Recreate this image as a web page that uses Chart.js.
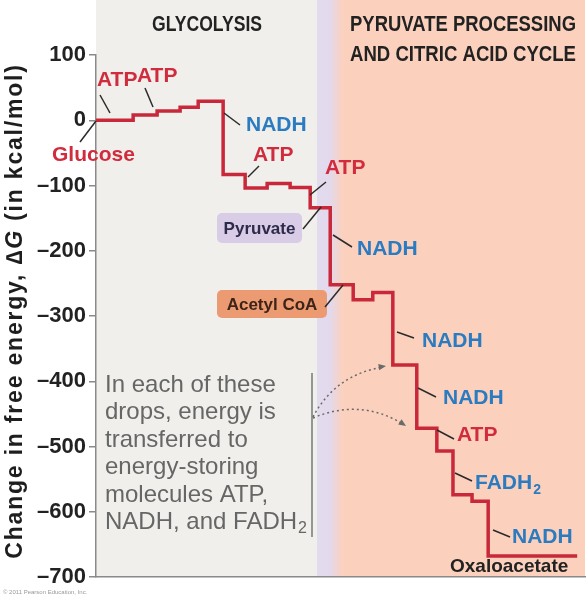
<!DOCTYPE html>
<html>
<head>
<meta charset="utf-8">
<script src="https://cdn.jsdelivr.net/npm/chart.js@4.4.1/dist/chart.umd.min.js"></script>
<style>
  body { margin: 0; background: #fff; }
  canvas { display: block; }
</style>
</head>
<body>
<canvas id="chartEnergia" width="587" height="600"></canvas>
<script>
// Reaction progress (arbitrary units 0-100) where each level starts
const STEP_X = [0, 7.6, 12.5, 17.2, 20.9, 26.0, 30.5, 35.0, 39.7, 43.8, 47.9, 52.6, 56.6, 60.7, 65.6, 69.7, 73.0, 76.9, 80.2, 98.4];
// Free energy of each level, kcal/mol
const STEP_DG = [0, 8, 14, 20, 29, -83, -104, -97, -103, -134, -252, -275, -264, -375, -472, -507, -574, -584, -668, -668];

const Y_TICKS = [100, 0, -100, -200, -300, -400, -500, -600, -700];

const PHASE_NAMES = [["GLYCOLYSIS"], ["PYRUVATE PROCESSING", "AND CITRIC ACID CYCLE"]];
const PHASE_LIMITS = [0, 45.2, 50.5, 100];

const RED = "#d02c3e";
const BLUE = "#2b7bc0";

// Callouts (pixel layout)
const CALLOUTS = [
  { text: "ATP", color: RED, x: 97, y: 80, line: [100, 95, 110, 113] },
  { text: "ATP", color: RED, x: 137, y: 76, line: [145, 88, 153, 107] },
  { text: "Glucose", color: RED, x: 52, y: 155, line: [80, 142, 96, 121] },
  { text: "NADH", color: BLUE, x: 246, y: 125, line: [224, 113, 240, 125] },
  { text: "ATP", color: RED, x: 253, y: 155, line: [248, 177, 259, 166] },
  { text: "ATP", color: RED, x: 325, y: 168, line: [310, 195, 326, 182] },
  { text: "NADH", color: BLUE, x: 357, y: 249, line: [333, 235, 352, 247] },
  { text: "NADH", color: BLUE, x: 422, y: 341, line: [397, 332, 414, 338] },
  { text: "NADH", color: BLUE, x: 443, y: 398, line: [418, 388, 436, 397] },
  { text: "ATP", color: RED, x: 457, y: 435, line: [437, 430, 454, 439] },
  { text: "FADH", sub: "2", color: BLUE, x: 475, y: 483, line: [455, 473, 472, 481] },
  { text: "NADH", color: BLUE, x: 512, y: 537, line: [493, 530, 510, 537] },
];

const BOXES = [
  { text: "Pyruvate", fill: "#d8cce6", color: "#2d2a4a", x: 217, y: 213, w: 85, h: 30, line: [303, 229, 321, 207] },
  { text: "Acetyl CoA", fill: "#ec9a72", color: "#3d2418", x: 217, y: 290, w: 110, h: 28, line: [325, 307, 343, 285] },
];

const NOTE_LINES = ["In each of these", "drops, energy is", "transferred to", "energy-storing", "molecules ATP,", "NADH, and FADH"];

// draws text squeezed to a given width (condensed look)
function textoAncho(ctx, text, cx, cy, width) {
  const w = ctx.measureText(text).width;
  ctx.save();
  ctx.translate(cx, cy);
  ctx.scale(width / w, 1);
  ctx.fillText(text, 0, 0);
  ctx.restore();
}

const fondoPlugin = {
  id: "fondo",
  beforeDraw(chart) {
    const { ctx, chartArea, scales } = chart;
    const x = scales.x;
    ctx.save();
    ctx.fillStyle = "#ffffff";
    ctx.fillRect(0, 0, chart.width, chart.height);

    const x0 = x.getPixelForValue(PHASE_LIMITS[0]);
    const x1 = x.getPixelForValue(PHASE_LIMITS[1]);
    const x2 = x.getPixelForValue(PHASE_LIMITS[2]);
    const x3 = x.getPixelForValue(PHASE_LIMITS[3]);
    const bottom = chartArea.bottom;

    ctx.fillStyle = "#f0efec";
    ctx.fillRect(x0, 0, x1 - x0, bottom);

    const grad = ctx.createLinearGradient(x1, 0, x2, 0);
    grad.addColorStop(0, "#e2dbee");
    grad.addColorStop(0.5, "#e3d9ec");
    grad.addColorStop(1, "#fbd0bd");
    ctx.fillStyle = grad;
    ctx.fillRect(x1, 0, x2 - x1, bottom);

    ctx.fillStyle = "#fbd0bd";
    ctx.fillRect(x2, 0, x3 - x2, bottom);

    // phase headers
    ctx.fillStyle = "#222";
    ctx.font = 'bold 22px "Liberation Sans", sans-serif';
    ctx.textAlign = "center";
    ctx.textBaseline = "middle";
    textoAncho(ctx, PHASE_NAMES[0][0], 207, 25, 110);
    textoAncho(ctx, PHASE_NAMES[1][0], 463, 25, 226);
    textoAncho(ctx, PHASE_NAMES[1][1], 463, 55, 226);
    ctx.restore();
  },
};

function leader(ctx, l) {
  ctx.beginPath();
  ctx.moveTo(l[0], l[1]);
  ctx.lineTo(l[2], l[3]);
  ctx.stroke();
}

function arrowHead(ctx, fx, fy, tx, ty) {
  const a = Math.atan2(ty - fy, tx - fx);
  ctx.beginPath();
  ctx.moveTo(tx, ty);
  ctx.lineTo(tx - 8 * Math.cos(a - 0.4), ty - 8 * Math.sin(a - 0.4));
  ctx.lineTo(tx - 8 * Math.cos(a + 0.4), ty - 8 * Math.sin(a + 0.4));
  ctx.closePath();
  ctx.fill();
}

const etiquetasPlugin = {
  id: "etiquetas",
  afterDraw(chart) {
    const { ctx } = chart;
    ctx.save();

    // y axis title with italic G
    const partes = [
      { t: "Change in free energy, \u2206", f: 'bold 23px "Liberation Sans", sans-serif' },
      { t: "G", f: 'italic bold 23px "Liberation Sans", sans-serif' },
      { t: " (in kcal/mol)", f: 'bold 23px "Liberation Sans", sans-serif' },
    ];
    ctx.letterSpacing = "1.8px";
    let total = 0;
    partes.forEach((p) => { ctx.font = p.f; p.w = ctx.measureText(p.t).width; total += p.w; });
    ctx.translate(16, 311);
    ctx.rotate(-Math.PI / 2);
    ctx.fillStyle = "#1e1e1e";
    ctx.textBaseline = "middle";
    ctx.textAlign = "left";
    let px = -total / 2;
    partes.forEach((p) => { ctx.font = p.f; ctx.fillText(p.t, px, 0); px += p.w; });
    ctx.setTransform(1, 0, 0, 1, 0, 0);
    ctx.letterSpacing = "0px";

    // callouts
    ctx.strokeStyle = "#2a2a2a";
    ctx.lineWidth = 1.5;
    ctx.textBaseline = "middle";
    CALLOUTS.forEach((c) => {
      leader(ctx, c.line);
      ctx.font = 'bold 21px "Liberation Sans", sans-serif';
      ctx.fillStyle = c.color;
      ctx.fillText(c.text, c.x, c.y);
      if (c.sub) {
        const w = ctx.measureText(c.text).width;
        ctx.font = 'bold 14px "Liberation Sans", sans-serif';
        ctx.fillText(c.sub, c.x + w + 1, c.y + 7);
      }
    });

    BOXES.forEach((b) => {
      ctx.fillStyle = b.fill;
      ctx.beginPath();
      ctx.roundRect(b.x, b.y, b.w, b.h, 5);
      ctx.fill();
      ctx.fillStyle = b.color;
      ctx.font = 'bold 17px "Liberation Sans", sans-serif';
      ctx.textAlign = "center";
      ctx.fillText(b.text, b.x + b.w / 2, b.y + b.h / 2 + 1);
      ctx.textAlign = "left";
      leader(ctx, b.line);
    });

    ctx.fillStyle = "#222";
    ctx.font = 'bold 19px "Liberation Sans", sans-serif';
    ctx.fillText("Oxaloacetate", 450, 567);

    // note text
    ctx.fillStyle = "#666";
    ctx.font = '24px "Liberation Sans", sans-serif';
    NOTE_LINES.forEach((l, i) => {
      ctx.fillText(l, 105, 385 + i * 27.5);
      if (i === NOTE_LINES.length - 1) {
        const w = ctx.measureText(l).width;
        ctx.font = '16px "Liberation Sans", sans-serif';
        ctx.fillText("2", 105 + w + 1, 385 + i * 27.5 + 6);
      }
    });

    // bracket and dotted arrows
    ctx.strokeStyle = "#777";
    ctx.lineWidth = 1.5;
    ctx.beginPath();
    ctx.moveTo(312, 373);
    ctx.lineTo(312, 537);
    ctx.stroke();

    ctx.setLineDash([2, 3]);
    ctx.strokeStyle = "#6a6a6a";
    ctx.beginPath();
    ctx.moveTo(313, 417);
    ctx.quadraticCurveTo(335, 375, 383, 367);
    ctx.stroke();
    ctx.beginPath();
    ctx.moveTo(313, 418);
    ctx.quadraticCurveTo(360, 398, 403, 424);
    ctx.stroke();
    ctx.setLineDash([]);
    ctx.fillStyle = "#6a6a6a";
    arrowHead(ctx, 365, 369, 386, 366);
    arrowHead(ctx, 385, 412, 406, 426);

    ctx.fillStyle = "#999";
    ctx.font = '6px "Liberation Sans", sans-serif';
    ctx.fillText("\u00a9 2011 Pearson Education, Inc.", 3, 592);

    ctx.restore();
  },
};

const puntos = STEP_X.map((x, i) => ({ x, y: STEP_DG[i] }));

new Chart(document.getElementById("chartEnergia").getContext("2d"), {
  type: "line",
  data: {
    datasets: [
      {
        data: puntos,
        stepped: "before",
        borderColor: "#c8283a",
        borderWidth: 3.5,
        pointRadius: 0,
        fill: false,
      },
    ],
  },
  options: {
    responsive: false,
    animation: false,
    layout: { padding: { left: 0, right: 2, top: 55, bottom: 23 } },
    plugins: {
      legend: { display: false },
      tooltip: { enabled: false },
    },
    scales: {
      x: {
        type: "linear",
        min: 0,
        max: 100,
        ticks: { display: false },
        grid: { display: false, drawTicks: false },
        border: { display: true, color: "#8a8a8a", width: 1.5 },
      },
      y: {
        min: -700,
        max: 100,
        afterBuildTicks: (axis) => {
          axis.ticks = Y_TICKS.map((v) => ({ value: v }));
        },
        afterFit: (axis) => {
          axis.width = 96;
        },
        ticks: {
          color: "#222",
          padding: 3,
          font: { family: "Liberation Sans", size: 22, weight: "bold" },
          callback: (v) => (v < 0 ? "\u2013" + Math.abs(v) : String(v)),
        },
        grid: { drawOnChartArea: false, tickLength: 7, color: "#8a8a8a", lineWidth: 1.5 },
        border: { color: "#8a8a8a", width: 1.5 },
      },
    },
  },
  plugins: [fondoPlugin, etiquetasPlugin],
});
</script>
</body>
</html>
